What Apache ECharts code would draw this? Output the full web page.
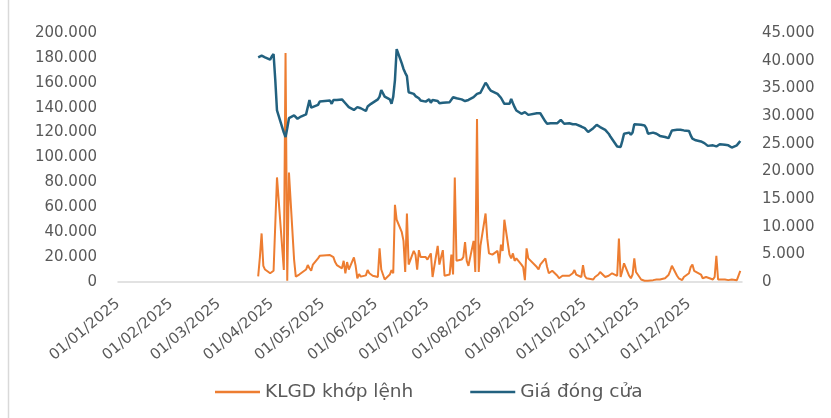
<!DOCTYPE html>
<html>
<head>
<meta charset="utf-8">
<script src="https://cdn.jsdelivr.net/npm/echarts@6/dist/echarts.min.js"></script>
<style>
  html, body { margin: 0; padding: 0; background: #ffffff; }
  #chart { width: 831px; height: 418px; }
</style>
</head>
<body>
<div id="chart"></div>
<script>
// Trading session calendar: weekdays from 24/03/2025 to 31/12/2025, minus market holidays
const sessionStart = [2025, 2, 24];
const sessionEnd = [2025, 11, 31];
const marketHolidays = ['2025-04-07', '2025-04-30', '2025-05-01', '2025-05-02', '2025-09-01', '2025-09-02'];

// Matched volume (KLGD khớp lệnh), one value per session, week by week
const volume = [
  4500, 20000, 39000, 13000, 10000,      // 24/03
  7000, 6500, 9000, 10000, 84000,        // 31/03
  9600, 184000, 1000, 88000,             // 08/04
  18000, 4300, 5000, 6000, 7000,         // 14/04
  10000, 13600, 11000, 9000, 14000,      // 21/04
  19000, 21000,                          // 28/04
  21600, 22000, 20000, 16000, 13600,     // 05/05
  11000, 17000, 7000, 16000, 10000,      // 12/05
  19800, 13000, 3000, 6400, 4300,        // 19/05
  5300, 9600, 7000, 7500, 5000,          // 26/05
  4000, 27000, 10000, 6000, 2000,        // 02/06
  6000, 9600, 7000, 62000, 50000,        // 09/06
  40000, 33000, 8000, 55000, 14000,      // 16/06
  25000, 22000, 10000, 25600, 20000,     // 23/06
  20000, 18000, 17000, 23000, 4000,      // 30/06
  29000, 14000, 20000, 25600, 5000,      // 07/07
  6000, 22000, 6000, 84000, 17000,       // 14/07
  18000, 20000, 32000, 17000, 13000,     // 21/07
  33000, 8000, 131000, 8000, 29000,      // 28/07
  55000, 35000, 23000, 24000, 22000,     // 04/08
  25000, 15000, 30000, 25000, 50000,     // 11/08
  22000, 19000, 23000, 17000, 19000,     // 18/08
  14000, 12000, 1500, 27000, 19000,      // 25/08
  12000, 10000, 14000,                   // 03/09
  19000, 12000, 7000, 8000, 9000,        // 08/09
  5000, 3000, 2000, 5000, 4000,          // 15/09
  5000, 4000, 7000, 9600, 6000,          // 22/09
  4000, 13600, 5000, 3000, 2000,         // 29/09
  2000, 4000, 3000, 6000, 8000,          // 06/10
  4000, 3000, 5000, 6000, 7000,          // 13/10
  5000, 35000, 4000, 9000, 15000,        // 20/10
  5000, 3000, 6000, 19000, 8000,         // 27/10
  2000, 1000, 1000, 1500, 1000,          // 03/11
  1500, 1000, 2000, 1500, 2000,          // 10/11
  3000, 4000, 5600, 9000, 13000,         // 17/11
  5000, 3000, 2000, 1500, 4000,          // 24/11
  7000, 12000, 14000, 9000, 8000,        // 01/12
  6000, 3000, 2000, 4000, 3000,          // 08/12
  2000, 4000, 21000, 2000, 3000,         // 15/12
  2000, 3000, 1500, 1000, 2000,          // 22/12
  1500, 1000, 9000                       // 29/12
];

// Closing price (Giá đóng cửa), one value per session
const closePrice = [
  40600, 40700, 40900, 40800, 40600,
  40200, 40800, 41200, 36500, 31000,
  27000, 26200, 27800, 29600,
  30100, 30200, 29500, 29800, 29900,
  30300, 30600, 32900, 31500, 31600,
  32000, 32600,
  32800, 32200, 32900, 32800, 32900,
  33000, 32800, 32300, 32000, 31600,
  31100, 31100, 31600, 31400, 31400,
  30900, 31700, 32000, 32200, 32400,
  33000, 33500, 34700, 34800, 33500,
  33000, 32200, 33500, 36500, 42100,
  39500, 38500, 37800, 37200, 34300,
  34000, 33600, 33800, 33200, 32800,
  32600, 32700, 33000, 32400, 32900,
  32700, 32300, 32500, 32400, 32600,
  32500, 32800, 33400, 33700, 33200,
  33000, 32800, 32700, 32600, 32900,
  33400, 33700, 34000, 33800, 34200,
  36000, 35600, 35000, 34600, 34300,
  34000, 33800, 33300, 33500, 32200,
  32200, 33100, 32300, 31600, 31000,
  30400, 30500, 30700, 30400, 30200,
  30500, 30700, 30500,
  29000, 28600, 28800, 28700, 28600,
  28700, 28900, 29300, 29000, 28600,
  28700, 28800, 28500, 28300, 28500,
  28100, 28200, 27800, 27600, 27100,
  27800, 28000, 28400, 28200, 28000,
  27500, 27200, 26800, 26300, 26000,
  24500, 24200, 24400, 25500, 26800,
  27000, 26600, 27000, 28500, 28300,
  28400, 28100, 28300, 27800, 26800,
  27000, 26700, 26800, 26500, 26400,
  26200, 26100, 26000, 26000, 27400,
  27500, 27200, 27500, 27500, 27400,
  27300, 26500, 25900, 25800, 25600,
  25400, 25300, 25100, 24900, 24600,
  24700, 25000, 24500, 24200, 24900,
  24800, 24900, 24700, 24500, 24300,
  24700, 25100, 25500
];

const seriesNames = ['KLGD khớp lệnh', 'Giá đóng cửa'];
const seriesColors = ['#ED7D31', '#22617F'];

// Left axis (volume) and right axis (price) ranges
const volumeAxis = { min: 0, max: 200000, step: 20000 };
const priceAxis = { min: 0, max: 45000, step: 5000 };

function pad2(n) { return (n < 10 ? '0' : '') + n; }
function isoDay(d) { return d.getFullYear() + '-' + pad2(d.getMonth() + 1) + '-' + pad2(d.getDate()); }

function buildSessions() {
  const out = [];
  const d = new Date(sessionStart[0], sessionStart[1], sessionStart[2]);
  const end = new Date(sessionEnd[0], sessionEnd[1], sessionEnd[2]);
  while (d <= end) {
    const wd = d.getDay();
    if (wd !== 0 && wd !== 6 && marketHolidays.indexOf(isoDay(d)) < 0) out.push(d.getTime());
    d.setDate(d.getDate() + 1);
  }
  return out;
}

const sessions = buildSessions();
const volumePoints = sessions.map((t, i) => [t, volume[i]]).filter(p => p[1] != null);
const pricePoints = sessions.map((t, i) => [t, closePrice[i]]).filter(p => p[1] != null);

function dotThousands(v) {
  return String(v).replace(/\B(?=(\d{3})+(?!\d))/g, '.');
}
function dayMonthYear(v) {
  const d = new Date(v);
  return pad2(d.getDate()) + '/' + pad2(d.getMonth() + 1) + '/' + d.getFullYear();
}

const FONT = 'DejaVu Sans';
const TEXT = '#595959';
const DAY = 86400000;

const chart = echarts.init(document.getElementById('chart'), null, { renderer: 'canvas' });
chart.setOption({
  animation: false,
  backgroundColor: '#ffffff',
  grid: { left: 118, right: 89, top: 33, bottom: 136 },
  legend: {
    data: seriesNames,
    left: 210,
    top: 377,
    icon: 'rect',
    itemWidth: 45,
    itemHeight: 2.5,
    itemGap: 57,
    textStyle: { fontFamily: FONT, fontSize: 18.5, color: TEXT, lineHeight: 20 }
  },
  xAxis: {
    type: 'time',
    min: new Date(2025, 0, 1).getTime(),
    max: new Date(2026, 0, 1).getTime(),
    splitNumber: 12,
    minInterval: 28 * DAY,
    maxInterval: 31 * DAY,
    axisLine: { show: true, lineStyle: { color: '#D9D9D9', width: 1.5 } },
    axisTick: { show: false },
    splitLine: { show: false },
    axisLabel: {
      rotate: 40,
      margin: 20,
      showMaxLabel: false,
      fontFamily: FONT,
      fontSize: 15,
      color: TEXT,
      formatter: dayMonthYear
    }
  },
  yAxis: [
    {
      type: 'value',
      min: volumeAxis.min,
      max: volumeAxis.max,
      interval: volumeAxis.step,
      axisLine: { show: false },
      axisTick: { show: false },
      splitLine: { show: false },
      axisLabel: { margin: 21, fontFamily: FONT, fontSize: 15, color: TEXT, formatter: dotThousands }
    },
    {
      type: 'value',
      position: 'right',
      min: priceAxis.min,
      max: priceAxis.max,
      interval: priceAxis.step,
      axisLine: { show: false },
      axisTick: { show: false },
      splitLine: { show: false },
      axisLabel: { margin: 20, fontFamily: FONT, fontSize: 15, color: TEXT, formatter: dotThousands }
    }
  ],
  series: [
    {
      name: seriesNames[0],
      type: 'line',
      yAxisIndex: 0,
      data: volumePoints,
      showSymbol: false,
      color: seriesColors[0],
      lineStyle: { width: 2, color: seriesColors[0] },
      z: 2
    },
    {
      name: seriesNames[1],
      type: 'line',
      yAxisIndex: 1,
      data: pricePoints,
      showSymbol: false,
      color: seriesColors[1],
      lineStyle: { width: 2.5, color: seriesColors[1] },
      z: 3
    }
  ],
  graphic: [
    {
      type: 'line',
      shape: { x1: 8.5, y1: 0, x2: 8.5, y2: 418 },
      style: { stroke: '#D9D9D9', lineWidth: 1.5 },
      silent: true
    }
  ]
});
</script>
</body>
</html>
